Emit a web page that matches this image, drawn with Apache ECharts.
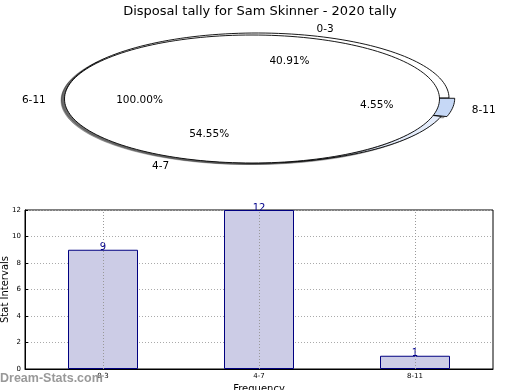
<!DOCTYPE html>
<html><head><meta charset="utf-8">
<script src="https://cdn.jsdelivr.net/npm/echarts@6/dist/echarts.min.js"></script>
<style>html,body{margin:0;padding:0;background:#fff}#c{width:520px;height:390px}</style>
</head><body><div id="c"></div>
<script>
const titleText = 'Disposal tally for Sam Skinner - 2020 tally';
const categories = ['0-3', '4-7', '8-11'];
const counts = [9, 12, 1];
const pieExplode = [0, 0, 0.03];
const outerLabels = ['6-11'];
const outerValues = [1];
const yAxisName = 'Stat Intervals';
const xAxisName = 'Frequency';
const watermark = 'Dream-Stats.com';

const sliceColors = ['#ffffff', '#e4ecfb', '#c6d8f6'];
const inner = {cx: 257, cy: 98, rx: 192, ry: 65};
const outer = {cx: 252, cy: 99, rx: 187.5, ry: 64};
const FONT = 'DejaVu Sans';

function wedgePoints(g, a1, a2, off, full) {
  const pts = [];
  const ox = g.cx + off[0], oy = g.cy + off[1];
  if (!full) pts.push([ox, oy]);
  const n = Math.max(4, Math.ceil((a2 - a1) / 2));
  for (let k = 0; k <= n; k++) {
    const t = (a1 + (a2 - a1) * k / n) * Math.PI / 180;
    pts.push([ox + g.rx * Math.cos(t), oy - g.ry * Math.sin(t)]);
  }
  return pts;
}
function shift(pts, dx, dy) { return pts.map(p => [p[0] + dx, p[1] + dy]); }

function sliceInfo(values, i, explode) {
  const total = values.reduce((a, b) => a + b, 0);
  let cum = 0; for (let k = 0; k < i; k++) cum += values[k];
  const a1 = 360 * cum / total, a2 = a1 + 360 * values[i] / total;
  const mid = (a1 + a2) / 2 * Math.PI / 180;
  return {a1, a2, mid, pct: values[i] / total * 100, e: explode ? explode[i] : 0};
}

function renderPie(values, g, explode, colors) {
  return function (params, api) {
    const i = params.dataIndex;
    const s = sliceInfo(values, i, explode);
    const off = [Math.cos(s.mid) * s.e * g.rx, -Math.sin(s.mid) * s.e * g.ry];
    const full = values.length === 1;
    const pts = wedgePoints(g, s.a1, s.a2, off, full);
    return {type: 'group', children: [
      {type: 'polygon', z2: 0, shape: {points: shift(pts, -3.5, 1.5)}, style: {fill: 'rgba(0,0,0,0.35)', stroke: 'rgba(0,0,0,0.25)', lineWidth: 1}},
      {type: 'polygon', z2: 5, shape: {points: pts}, style: {fill: colors[i % colors.length], stroke: '#000', lineWidth: 0.9}}
    ]};
  };
}

function renderLabels(values, g, explode, names) {
  return function (params, api) {
    const i = params.dataIndex;
    const s = sliceInfo(values, i, explode);
    const full = values.length === 1;
    const mid = full ? Math.PI : s.mid;
    const off = [Math.cos(mid) * s.e * g.rx, -Math.sin(mid) * s.e * g.ry];
    const c = Math.cos(mid), sn = Math.sin(mid);
    const ox = g.cx + off[0], oy = g.cy + off[1];
    return {type: 'group', children: [
      {type: 'text', style: {text: names[i], x: ox + 1.1 * g.rx * c, y: oy - 1.1 * g.ry * sn + 1.5 - 1.5 * sn,
        align: c >= 0 ? 'left' : 'right', verticalAlign: 'middle', font: '10.5px "' + FONT + '"', fill: '#000'}},
      {type: 'text', style: {text: s.pct.toFixed(2) + '%', x: ox + 0.6 * g.rx * c, y: oy - 0.6 * g.ry * sn + 1,
        align: 'center', verticalAlign: 'middle', font: '10.5px "' + FONT + '"', fill: '#000'}}
    ]};
  };
}

const chart = echarts.init(document.getElementById('c'), null, {renderer: 'canvas'});
chart.setOption({
  animation: false,
  backgroundColor: '#fff',
  title: {text: titleText, left: 'center', top: 0, textStyle: {fontFamily: FONT, fontSize: 13, fontWeight: 'normal', color: '#000'}},
  grid: {left: 25, right: 27, top: 210, bottom: 21, containLabel: false, outerBoundsMode: 'none',
    show: true, borderColor: '#000', borderWidth: 1, backgroundColor: 'transparent'},
  xAxis: {type: 'category', data: categories, boundaryGap: true,
    axisLine: {lineStyle: {color: '#000'}}, axisTick: {show: false},
    axisLabel: {fontFamily: FONT, fontSize: 7, color: '#000', margin: 4},
    name: xAxisName, nameLocation: 'middle', nameGap: 15, nameMoveOverlap: false,
    nameTextStyle: {fontFamily: FONT, fontSize: 10, color: '#000'}},
  yAxis: {type: 'value', min: 0, max: 12, interval: 2,
    axisLine: {show: true, lineStyle: {color: '#000'}}, axisTick: {show: true, inside: true, length: 3, lineStyle: {color: '#000'}},
    axisLabel: {fontFamily: FONT, fontSize: 7, color: '#000', margin: 4},
    splitLine: {show: true, lineStyle: {type: [1, 2], color: '#aaa', width: 1}},
    name: yAxisName, nameLocation: 'middle', nameGap: 15, nameMoveOverlap: false,
    nameTextStyle: {fontFamily: FONT, fontSize: 10, color: '#000'}},
  graphic: [{type: 'text', left: 0, top: 372, z: 100,
    style: {text: watermark, fontFamily: 'Liberation Sans', fontWeight: 'bold', fontSize: 12.5, fill: '#999'}}],
  series: [
    {type: 'bar', data: counts, barWidth: 70,
      itemStyle: {color: '#ccccE6', borderColor: '#000080', borderWidth: 1},
      label: {show: true, position: 'top', distance: 0, offset: [0, 3], color: '#00008b', fontFamily: FONT, fontSize: 10},
      markLine: {silent: true, symbol: 'none', z: 10, label: {show: false},
        lineStyle: {type: [1, 2], color: '#999', width: 1},
        data: categories.map(c => ({xAxis: c}))}},
    {type: 'custom', coordinateSystem: 'none', z: 2, silent: true, data: counts, renderItem: renderPie(counts, inner, pieExplode, sliceColors)},
    {type: 'custom', coordinateSystem: 'none', z: 3, silent: true, data: outerValues, renderItem: renderPie(outerValues, outer, null, ['#ffffff'])},
    {type: 'custom', coordinateSystem: 'none', z: 4, silent: true, data: counts, renderItem: renderLabels(counts, inner, pieExplode, categories)},
    {type: 'custom', coordinateSystem: 'none', z: 4, silent: true, data: outerValues, renderItem: renderLabels(outerValues, outer, null, outerLabels)}
  ]
});
</script></body></html>
